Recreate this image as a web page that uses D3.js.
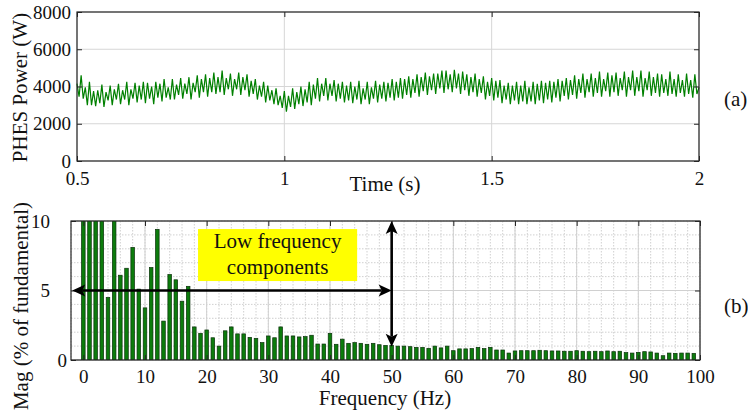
<!DOCTYPE html>
<html lang="en">
<head>
<meta charset="utf-8">
<title>PHES power and spectrum</title>
<script src="https://cdn.jsdelivr.net/npm/d3@7"></script>
<style type="text/css">
body { margin: 0; background: white; }
svg text { font-family: "Liberation Serif", "Times New Roman", serif; fill: #111; }
</style>
</head>
<body>
<script type="text/javascript">
// ---- panel (a): PHES power (W), one sample every 5 ms from 0.5 s to 2 s
var tStart = 0.5;
var tStep = 0.005;
var power = [
  4150, 3450, 4600, 3350, 3950, 3000, 4250, 3000, 3750, 2950,
  3800, 3100, 4100, 2900, 3700, 3250, 4050, 3000, 3850, 3300,
  4150, 3050, 3800, 3300, 4250, 3000, 3850, 3350, 4200, 3150,
  4050, 3300, 4250, 3100, 4200, 3350, 4000, 3050, 4250, 3400,
  4150, 3200, 4400, 3400, 3950, 3300, 4400, 3300, 4100, 3550,
  4450, 3350, 4150, 3600, 4500, 3300, 4200, 3700, 4600, 3400,
  4400, 3700, 4650, 3450, 4450, 3700, 4750, 3600, 4500, 3700,
  4850, 3550, 4450, 3850, 4700, 3500, 4400, 3850, 4750, 3550,
  4500, 3800, 4650, 3450, 4300, 3600, 4400, 3300, 4050, 3450,
  4250, 3150, 4050, 3250, 3800, 3050, 3900, 3000, 3500, 2850,
  3750, 2650, 3500, 2900, 3900, 2800, 3700, 3050, 4000, 2950,
  3850, 3150, 4250, 3000, 4100, 3350, 4450, 3200, 4150, 3500,
  4450, 3250, 4150, 3500, 4350, 3200, 4150, 3350, 4250, 3150,
  4050, 3250, 4250, 3100, 4000, 3300, 4300, 3050, 3900, 3300,
  4250, 3050, 3950, 3350, 4300, 3150, 4100, 3350, 4250, 3200,
  4200, 3400, 4400, 3250, 4250, 3400, 4450, 3350, 4400, 3550,
  4550, 3400, 4400, 3650, 4650, 3450, 4500, 3750, 4750, 3550,
  4550, 3800, 4700, 3600, 4700, 3900, 4850, 3650, 4850, 3850,
  4650, 3700, 4900, 3900, 4700, 3600, 4800, 3800, 4650, 3500,
  4500, 3700, 4700, 3450, 4400, 3650, 4550, 3300, 4250, 3500,
  4450, 3250, 4300, 3400, 4350, 3100, 4050, 3300, 4200, 3050,
  4050, 3250, 4250, 3050, 4050, 3200, 4300, 3050, 3950, 3200,
  4250, 3050, 4150, 3250, 4300, 3100, 4200, 3300, 4300, 3150,
  4250, 3400, 4400, 3200, 4300, 3500, 4450, 3300, 4350, 3550,
  4600, 3350, 4400, 3650, 4700, 3400, 4400, 3700, 4700, 3450,
  4450, 3650, 4800, 3450, 4400, 3750, 4750, 3450, 4600, 3700,
  4750, 3500, 4450, 3800, 4800, 3450, 4500, 3800, 4850, 3500,
  4500, 3750, 4850, 3450, 4450, 3800, 4800, 3500, 4500, 3650,
  4700, 3450, 4650, 3650, 4400, 3500, 4800, 3600, 4400, 3450,
  4650, 3650, 4350, 3450, 4700, 3600, 4350, 3400, 4650, 3600,
  3950
];
var timeTicks = [0.5, 1, 1.5, 2];
var powerTicks = [0, 2000, 4000, 6000, 8000];

// ---- panel (b): spectrum, magnitude (% of fundamental) for 0..99 Hz
var mag = [
  14, 12, 11.5, 11, 4.5, 10.8, 6.1, 6.6, 8.1, 5.1,
  3.75, 6.65, 9.4, 2.8, 6.15, 5.77, 4.23, 5.3, 2.38, 1.92,
  2.16, 1.6, 1.0, 2.1, 2.38, 1.88, 1.88, 1.63, 1.56, 1.25,
  1.73, 1.6, 2.38, 1.73, 1.73, 1.66, 1.68, 1.78, 1.15, 1.15,
  1.92, 1.13, 1.5, 1.2, 1.25, 1.2, 1.13, 1.2, 1.1, 1.05,
  1.05, 1.0, 1.0, 0.96, 0.91, 0.91, 0.84, 1.0, 0.87, 1.0,
  0.67, 0.8, 0.8, 0.82, 0.91, 0.82, 0.91, 0.72, 0.72, 0.5,
  0.65, 0.67, 0.67, 0.67, 0.7, 0.67, 0.65, 0.65, 0.63, 0.63,
  0.67, 0.63, 0.6, 0.63, 0.6, 0.65, 0.6, 0.63, 0.53, 0.5,
  0.55, 0.6, 0.58, 0.5, 0.31, 0.5, 0.48, 0.5, 0.5, 0.48
];
var freqTicks = [0, 10, 20, 30, 40, 50, 60, 70, 80, 90, 100];
var magTicks = [0, 5, 10];
var freqMinor = d3.range(-2, 101, 2);
var magMinor = d3.range(0, 11, 1);

var noteLines = ["Low frequency", "components"];

var serif = "'Liberation Serif', 'Times New Roman', serif";
var width = 748, height = 414;
var svg = d3.select("body").append("svg")
    .attr("width", width)
    .attr("height", height);

// restyle an axis group after d3 has drawn it
function styleAxis(g) {
    g.attr("font-family", serif).attr("font-size", 19);
    g.select(".domain").remove();
    g.selectAll(".tick line").attr("stroke", "#262626");
    g.selectAll(".tick text").attr("fill", "#111").style("font-family", serif).style("font-size", "19px");
}

// ================= panel (a) =================
var a = { left: 77, right: 699, top: 12, bottom: 161 };
var xT = d3.scaleLinear().domain([0.5, 2]).range([a.left, a.right]);
var yT = d3.scaleLinear().domain([0, 8000]).range([a.bottom, a.top]);

var gA = svg.append("g");

// grid
gA.selectAll("line.vgrid").data(timeTicks).enter().append("line")
    .attr("x1", function(d) { return xT(d); }).attr("x2", function(d) { return xT(d); })
    .attr("y1", a.top).attr("y2", a.bottom)
    .attr("stroke", "#d6d6d6").attr("stroke-width", 1);
gA.selectAll("line.hgrid").data(powerTicks).enter().append("line")
    .attr("x1", a.left).attr("x2", a.right)
    .attr("y1", function(d) { return yT(d); }).attr("y2", function(d) { return yT(d); })
    .attr("stroke", "#d6d6d6").attr("stroke-width", 1);

// signal
var line = d3.line()
    .x(function(d, i) { return xT(tStart + i * tStep); })
    .y(function(d) { return yT(d); });
gA.append("path")
    .datum(power)
    .attr("d", line)
    .attr("fill", "none")
    .attr("stroke", "#008000")
    .attr("stroke-width", 1.2);

// axes (ticks pointing inwards)
gA.append("g")
    .attr("transform", "translate(0," + a.bottom + ")")
    .call(d3.axisBottom(xT).tickValues(timeTicks).tickFormat(d3.format("")).tickSizeInner(-5).tickSizeOuter(0).tickPadding(11))
    .call(styleAxis);
gA.append("g")
    .attr("transform", "translate(" + a.left + ",0)")
    .call(d3.axisLeft(yT).tickValues(powerTicks).tickFormat(d3.format("d")).tickSizeInner(-5).tickSizeOuter(0).tickPadding(6))
    .call(styleAxis);
gA.append("g")
    .attr("transform", "translate(0," + a.top + ")")
    .call(d3.axisTop(xT).tickValues(timeTicks).tickFormat("").tickSizeInner(-5).tickSizeOuter(0))
    .call(styleAxis);
gA.append("g")
    .attr("transform", "translate(" + a.right + ",0)")
    .call(d3.axisRight(yT).tickValues(powerTicks).tickFormat("").tickSizeInner(-5).tickSizeOuter(0))
    .call(styleAxis);

gA.append("rect")
    .attr("x", a.left).attr("y", a.top)
    .attr("width", a.right - a.left).attr("height", a.bottom - a.top)
    .attr("fill", "none").attr("stroke", "#262626").attr("stroke-width", 1.2);

gA.append("text")
    .attr("x", 385).attr("y", 191)
    .attr("text-anchor", "middle")
    .attr("font-size", "21px")
    .text("Time (s)");
gA.append("text")
    .attr("transform", "translate(27," + ((a.top + a.bottom) / 2 + 1) + ") rotate(-90)")
    .attr("text-anchor", "middle")
    .attr("font-size", "21px")
    .text("PHES Power (W)");
gA.append("text")
    .attr("x", 724).attr("y", 106)
    .attr("font-size", "21px")
    .text("(a)");

// ================= panel (b) =================
var b = { left: 71, right: 700, top: 221, bottom: 360 };
var xF = d3.scaleLinear().domain([-2, 100]).range([b.left, b.right]);
var yF = d3.scaleLinear().domain([0, 10]).range([b.bottom, b.top]);

var gB = svg.append("g");

gB.append("clipPath").attr("id", "clipB")
    .append("rect")
    .attr("x", b.left).attr("y", b.top)
    .attr("width", b.right - b.left).attr("height", b.bottom - b.top);

// minor grid (dotted)
gB.selectAll("line.vminor").data(freqMinor).enter().append("line")
    .attr("x1", function(d) { return xF(d); }).attr("x2", function(d) { return xF(d); })
    .attr("y1", b.top).attr("y2", b.bottom)
    .attr("stroke", "#c4c4c4").attr("stroke-width", 0.8).attr("stroke-dasharray", "1.5,1.5");
gB.selectAll("line.hminor").data(magMinor).enter().append("line")
    .attr("x1", b.left).attr("x2", b.right)
    .attr("y1", function(d) { return yF(d); }).attr("y2", function(d) { return yF(d); })
    .attr("stroke", "#c4c4c4").attr("stroke-width", 0.8).attr("stroke-dasharray", "1.5,1.5");
// major grid
gB.selectAll("line.vmajor").data(freqTicks).enter().append("line")
    .attr("x1", function(d) { return xF(d); }).attr("x2", function(d) { return xF(d); })
    .attr("y1", b.top).attr("y2", b.bottom)
    .attr("stroke", "#d0d0d0").attr("stroke-width", 1);
gB.selectAll("line.hmajor").data(magTicks).enter().append("line")
    .attr("x1", b.left).attr("x2", b.right)
    .attr("y1", function(d) { return yF(d); }).attr("y2", function(d) { return yF(d); })
    .attr("stroke", "#d0d0d0").attr("stroke-width", 1);

// bars
var barW = xF(0.58) - xF(0);
gB.append("g").attr("clip-path", "url(#clipB)")
    .selectAll("rect")
    .data(mag)
    .enter()
    .append("rect")
    .attr("x", function(d, i) { return xF(i) - barW / 2; })
    .attr("y", function(d) { return yF(d); })
    .attr("width", barW)
    .attr("height", function(d) { return yF(0) - yF(d); })
    .attr("fill", "#0c7c0c")
    .attr("stroke", "#0a300a")
    .attr("stroke-width", 0.7);

// axes
gB.append("g")
    .attr("transform", "translate(0," + b.bottom + ")")
    .call(d3.axisBottom(xF).tickValues(freqTicks).tickSizeInner(-5).tickSizeOuter(0).tickPadding(10))
    .call(styleAxis);
var ayB = gB.append("g")
    .attr("transform", "translate(" + b.left + ",0)")
    .call(d3.axisLeft(yF).tickValues(magTicks).tickSizeInner(-5).tickSizeOuter(0).tickPadding(21))
    .call(styleAxis);
ayB.selectAll(".tick text").filter(function(d) { return d === 0; }).attr("x", -4);
gB.append("g")
    .attr("transform", "translate(0," + b.top + ")")
    .call(d3.axisTop(xF).tickValues(freqTicks).tickFormat("").tickSizeInner(-5).tickSizeOuter(0))
    .call(styleAxis);
gB.append("g")
    .attr("transform", "translate(" + b.right + ",0)")
    .call(d3.axisRight(yF).tickValues(magTicks).tickFormat("").tickSizeInner(-5).tickSizeOuter(0))
    .call(styleAxis);

gB.append("rect")
    .attr("x", b.left).attr("y", b.top)
    .attr("width", b.right - b.left).attr("height", b.bottom - b.top)
    .attr("fill", "none").attr("stroke", "#262626").attr("stroke-width", 1.2);

// annotation box
var box = { x1: 18.6, x2: 44.4, y1: 9.42, y2: 5.68 };
gB.append("rect")
    .attr("x", xF(box.x1)).attr("y", yF(box.y1))
    .attr("width", xF(box.x2) - xF(box.x1))
    .attr("height", yF(box.y2) - yF(box.y1))
    .attr("fill", "#ffff00");
gB.selectAll("text.note").data(noteLines).enter().append("text")
    .attr("x", xF((box.x1 + box.x2) / 2))
    .attr("y", function(d, i) { return yF(box.y1) + 19 + i * 26; })
    .attr("text-anchor", "middle")
    .attr("font-size", "21px")
    .text(function(d) { return d; });

// double arrows
function arrowHead(g, tx, ty, dx, dy) {
    var len = 13, half = 6, notch = 3;
    var px = -dy, py = dx;
    var bx = tx - dx * len, by = ty - dy * len;
    var nx = tx - dx * (len - notch), ny = ty - dy * (len - notch);
    g.append("polygon")
        .attr("points", [
            [tx, ty],
            [bx + px * half, by + py * half],
            [nx, ny],
            [bx - px * half, by - py * half]
        ].map(function(p) { return p.join(","); }).join(" "))
        .attr("fill", "#000");
}
function doubleArrow(g, x1, y1, x2, y2) {
    var L = Math.hypot(x2 - x1, y2 - y1);
    var dx = (x2 - x1) / L, dy = (y2 - y1) / L;
    g.append("line")
        .attr("x1", x1 + dx * 10).attr("y1", y1 + dy * 10)
        .attr("x2", x2 - dx * 10).attr("y2", y2 - dy * 10)
        .attr("stroke", "#000").attr("stroke-width", 2.6);
    arrowHead(g, x2, y2, dx, dy);
    arrowHead(g, x1, y1, -dx, -dy);
}
var hArrow = { f1: -1.8, f2: 50, m: 5 };
var vArrow = { f: 50, m1: 10, m2: 0.96 };
doubleArrow(gB, xF(hArrow.f1), yF(hArrow.m), xF(hArrow.f2), yF(hArrow.m));
doubleArrow(gB, xF(vArrow.f), yF(vArrow.m1), xF(vArrow.f), yF(vArrow.m2));

gB.append("text")
    .attr("x", 385).attr("y", 405)
    .attr("text-anchor", "middle")
    .attr("font-size", "21px")
    .text("Frequency (Hz)");
gB.append("text")
    .attr("transform", "translate(28,306) rotate(-90)")
    .attr("text-anchor", "middle")
    .attr("font-size", "21px")
    .text("Mag (% of fundamental)");
gB.append("text")
    .attr("x", 724).attr("y", 313)
    .attr("font-size", "21px")
    .text("(b)");
</script>
</body>
</html>
